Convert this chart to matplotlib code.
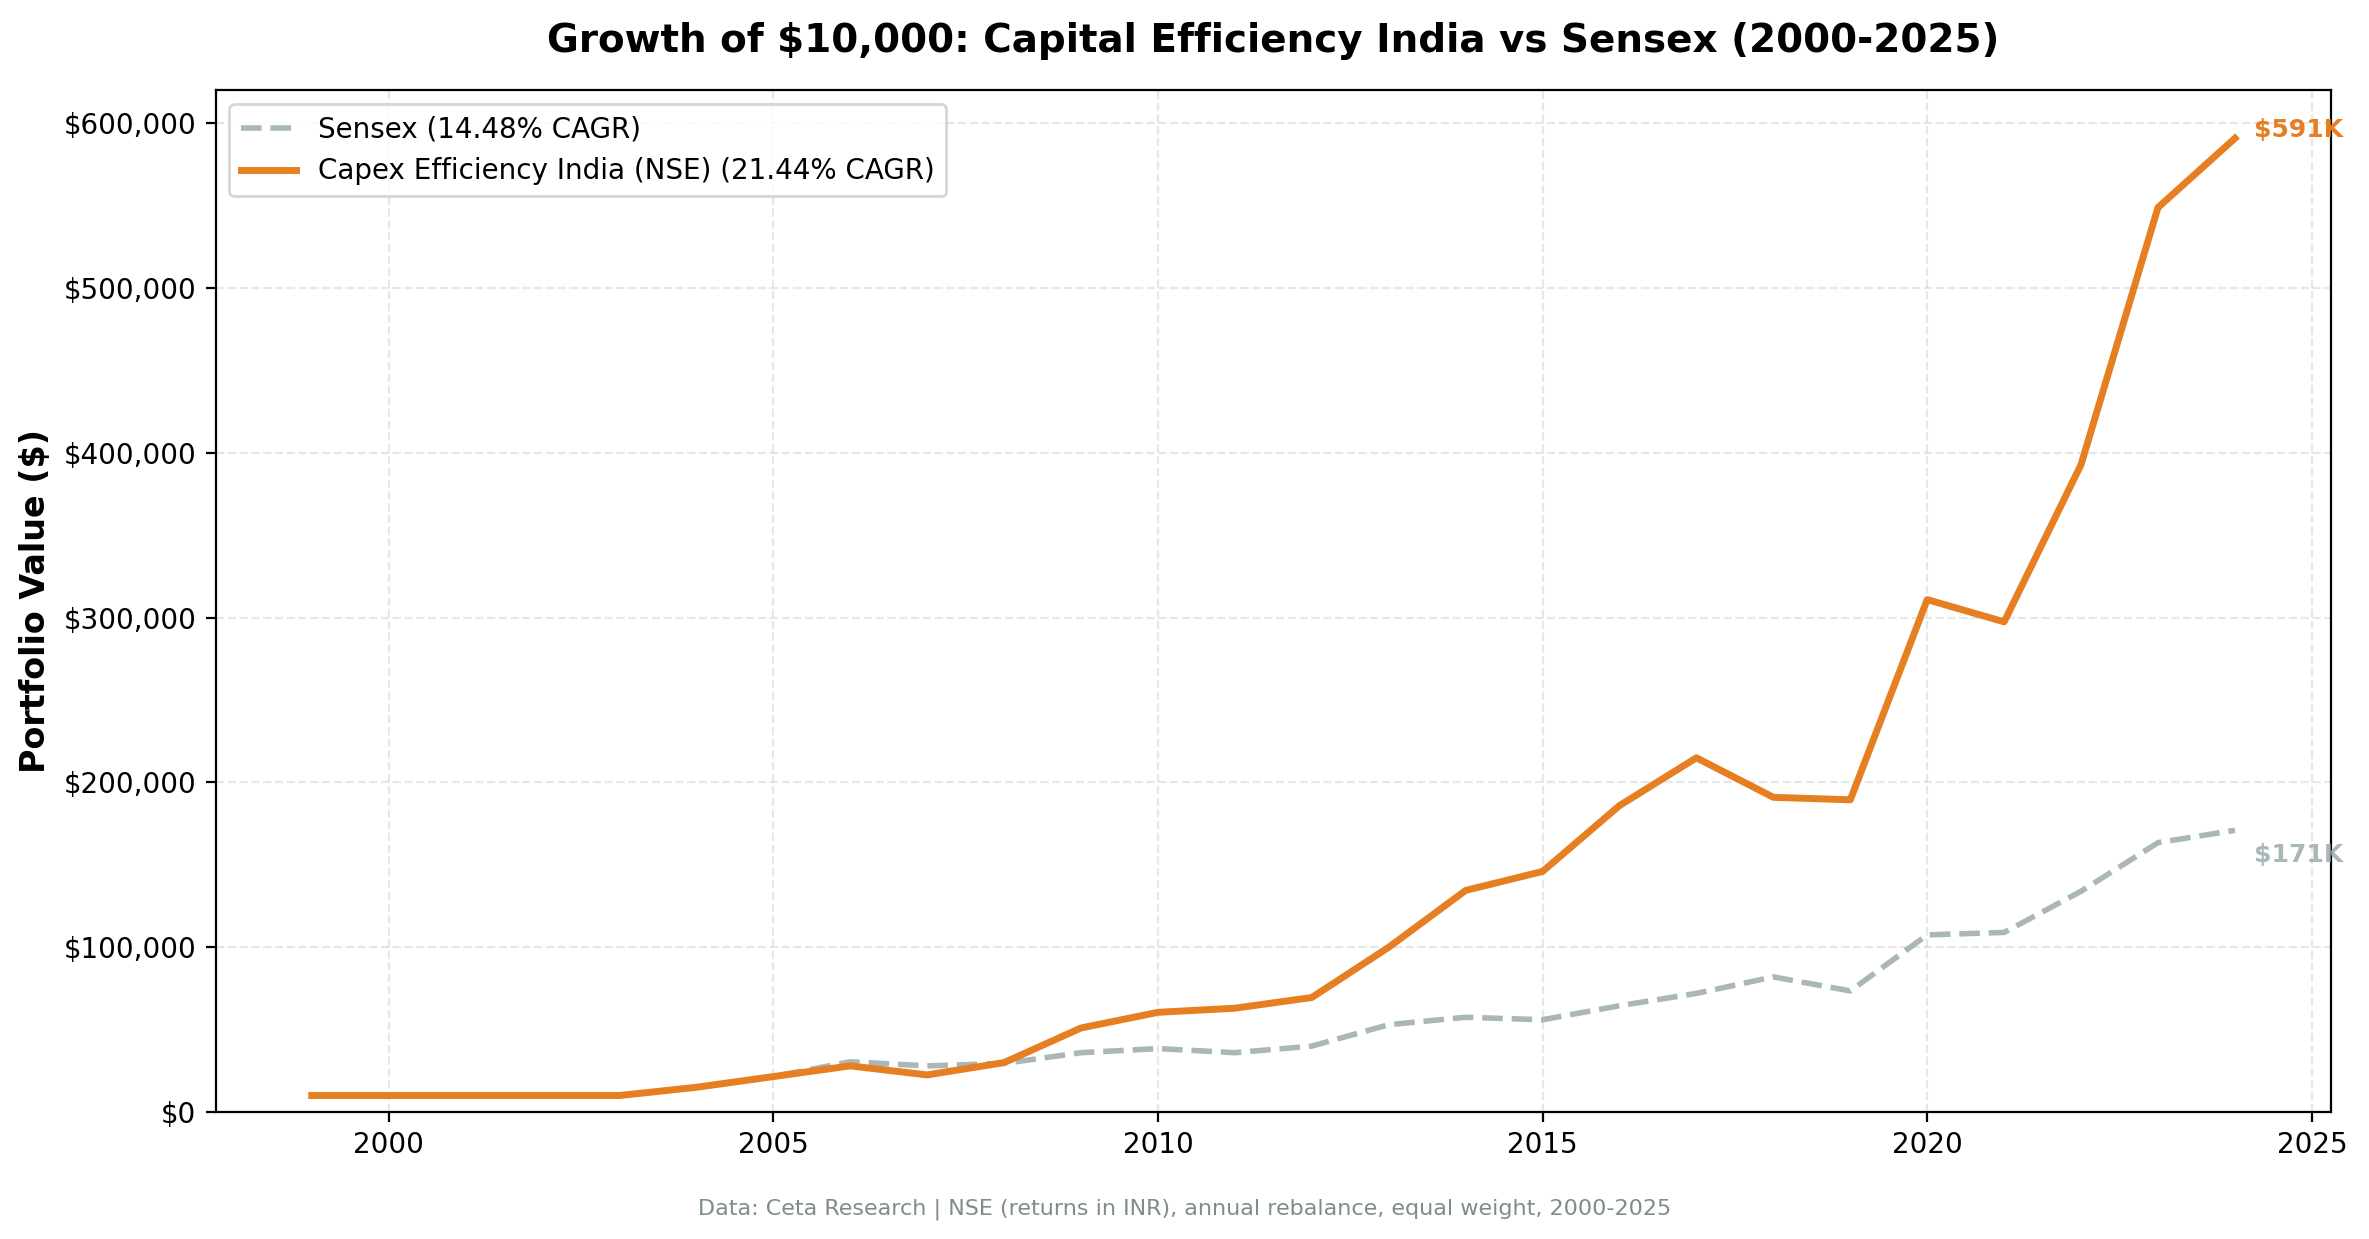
import matplotlib
matplotlib.use("Agg")
import matplotlib.pyplot as plt
from matplotlib.ticker import FuncFormatter

# === Data ===
years = list(range(1999, 2025))
strategy = [10000, 10000, 10000, 10000, 10000, 15000, 21500, 28000, 22500, 30000,
            51000, 60500, 63000, 69500, 100000, 134500, 146000, 186000, 215000, 191000,
            189500, 311000, 297500, 393000, 549000, 591000]
sensex = [10000, 10000, 10000, 10000, 10000, 15000, 21500, 30500, 28000, 29500,
          36000, 38500, 36000, 40000, 53000, 57500, 56000, 64500, 72000, 82000,
          73500, 107500, 109000, 134000, 163500, 171000]

strategy_label = "Capex Efficiency India (NSE) (21.44% CAGR)"
sensex_label = "Sensex (14.48% CAGR)"
orange = "#e67e22"
grey = "#95a5a6"

# === Plot ===
fig = plt.figure(figsize=(2369 / 200, 1239 / 200), dpi=200)
ax = fig.add_axes([0.091, 0.1025, 0.893, 0.8245])

ax.plot(years, sensex, label=sensex_label, color=grey, linestyle="--", linewidth=2, alpha=0.8)
ax.plot(years, strategy, label=strategy_label, color=orange, linewidth=2.5)

# End labels
ax.annotate(f"${strategy[-1] / 1000:.0f}K", xy=(years[-1], strategy[-1]),
            xytext=(7, 3), textcoords="offset points", va="center",
            fontsize=9, fontweight="bold", color=orange)
ax.annotate(f"${sensex[-1] / 1000:.0f}K", xy=(years[-1], sensex[-1]),
            xytext=(7, -9), textcoords="offset points", va="center",
            fontsize=9, fontweight="bold", color=grey, alpha=0.8)

# Style
ax.set_title("Growth of $10,000: Capital Efficiency India vs Sensex (2000-2025)",
             fontsize=14, fontweight="bold", pad=14)
ax.set_ylabel("Portfolio Value ($)", fontsize=12, fontweight="bold")
ax.yaxis.set_major_formatter(FuncFormatter(lambda v, _: f"${v:,.0f}"))
ax.set_ylim(bottom=0)
ax.grid(True, alpha=0.3, linestyle="--")
ax.legend(loc="upper left", fontsize=10)

fig.text(0.5, 0.024, "Data: Ceta Research | NSE (returns in INR), annual rebalance, equal weight, 2000-2025",
         ha="center", va="center", fontsize=8, color="#7f8c8d")

fig.savefig("out.png", dpi=200)
print("Saved plot as out.png")
